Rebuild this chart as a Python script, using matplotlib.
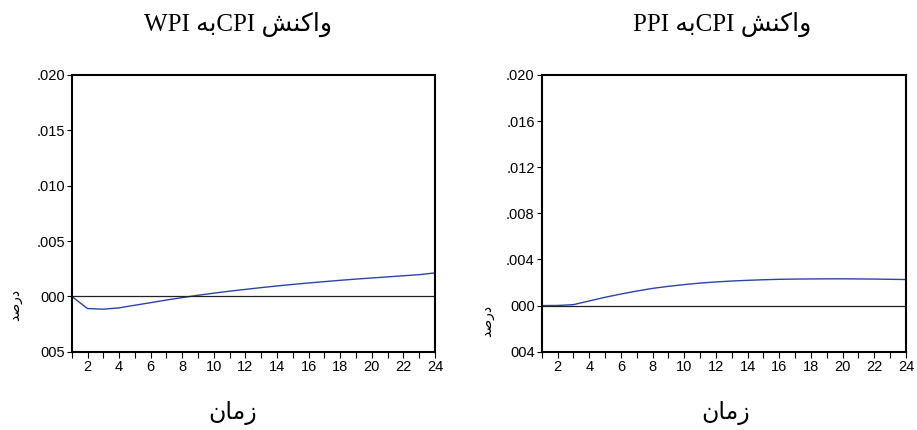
import numpy as np
import matplotlib
matplotlib.use("Agg")
import matplotlib.pyplot as plt

# impulse responses, periods 1..24
periods = list(range(1, 25))
resp_wpi = [0.0, -0.00110, -0.00116, -0.00104, -0.00080, -0.00057, -0.00033, -0.00011,
            0.00010, 0.00029, 0.00047, 0.00063, 0.00079, 0.00094, 0.00108, 0.00121,
            0.00133, 0.00145, 0.00156, 0.00166, 0.00176, 0.00186, 0.00196, 0.00212]
resp_ppi = [0.0, 0.00001, 0.00008, 0.00040, 0.00072, 0.00100, 0.00126, 0.00149,
            0.00167, 0.00182, 0.00195, 0.00205, 0.00213, 0.00219, 0.00224, 0.00228,
            0.00230, 0.00231, 0.00232, 0.00232, 0.00231, 0.00230, 0.00228, 0.00226]

# y ticks and the labels as they are visible in the reference (left part cut off)
yticks_wpi = [-0.005, 0.0, 0.005, 0.010, 0.015, 0.020]
ylabels_wpi = ["005", "000", ".005", ".010", ".015", ".020"]
yticks_ppi = [-0.004, 0.0, 0.004, 0.008, 0.012, 0.016, 0.020]
ylabels_ppi = ["004", "000", ".004", ".008", ".012", ".016", ".020"]
xticks_major = [2, 4, 6, 8, 10, 12, 14, 16, 18, 20, 22, 24]

# persian text, shaped by hand (presentation forms, visual left-to-right order)
title_wpi = "WPI \ufeea\ufe91CPI \ufeb6\ufee8\ufb90\ufe8d\ufeed"
title_ppi = "PPI \ufeea\ufe91CPI \ufeb6\ufee8\ufb90\ufe8d\ufeed"
xlab = "\ufee5\ufe8e\ufee3\ufeaf"
ylab = "\ufeaa\ufebb\ufead\ufea9"

plt.rcParams["font.family"] = ["Liberation Sans", "DejaVu Sans"]

fig = plt.figure(figsize=(9.17, 4.30), dpi=100)
ax1 = fig.add_axes([0.0782, 0.1821, 0.3962, 0.6435])
ax2 = fig.add_axes([0.5907, 0.1821, 0.3973, 0.6435])

panels = [
    (ax1, resp_wpi, yticks_wpi, ylabels_wpi, (-0.005, 0.020)),
    (ax2, resp_ppi, yticks_ppi, ylabels_ppi, (-0.004, 0.020)),
]
for ax, resp, yt, yl, ylim in panels:
    ax.plot(periods, resp, color="#2a44a8", lw=1.0)
    ax.axhline(0, color="#222222", lw=0.9)
    ax.set_xlim(1, 24)
    ax.set_ylim(*ylim)
    ax.set_xticks(periods, minor=True)
    ax.set_xticks(xticks_major)
    ax.set_yticks(yt)
    ax.set_yticklabels(yl)
    ax.tick_params(axis="x", which="both", direction="out", length=4, width=0.8,
                   labelsize=10.5, pad=2, top=False)
    ax.tick_params(axis="y", direction="out", length=3.5, width=0.8,
                   labelsize=10.5, pad=1.5, right=False)
    for sp in ax.spines.values():
        sp.set_linewidth(1.5)

# titles, axis labels
title_font = ["Liberation Serif", "DejaVu Sans"]
fig.text(0.2595, 0.944, title_wpi, ha="center", va="center", fontsize=18, family=title_font)
fig.text(0.787, 0.944, title_ppi, ha="center", va="center", fontsize=18, family=title_font)
fig.text(0.254, 0.040, xlab, ha="center", va="center", fontsize=17, family="DejaVu Sans")
fig.text(0.791, 0.040, xlab, ha="center", va="center", fontsize=17, family="DejaVu Sans")
fig.text(0.017, 0.29, ylab, ha="center", va="center", fontsize=10, rotation=90, family="DejaVu Sans")
fig.text(0.531, 0.253, ylab, ha="center", va="center", fontsize=10, rotation=90, family="DejaVu Sans")

fig.savefig("out.png", dpi=100)
